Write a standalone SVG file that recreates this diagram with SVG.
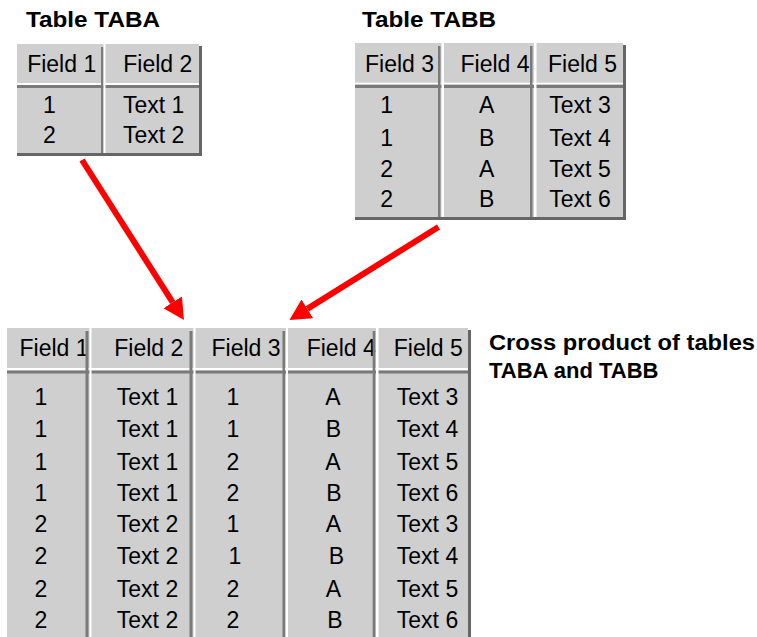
<svg xmlns="http://www.w3.org/2000/svg" width="757" height="637" viewBox="0 0 757 637">
<style>
.bg{fill:#cfcfcf}
.wl{fill:#ffffff}
.gl{fill:#7a7a7a}
.sh{fill:#666666}
text{font-family:"Liberation Sans",Arial,sans-serif;font-size:23px;fill:#000}
.c{text-anchor:middle}
.t{font-weight:bold;font-size:22px}
.arrow{stroke:#ff0000;stroke-width:6;fill:none}
</style>
<defs>
<marker id="ah" markerUnits="userSpaceOnUse" markerWidth="22" markerHeight="24" refX="0" refY="11" orient="auto" viewBox="0 0 22 22">
<path d="M0,0 L21,11 L0,22 Z" fill="#ff0000"/>
</marker>
</defs>
<rect width="757" height="637" fill="#ffffff"/>

<g id="titleA"><text class="t" x="26" y="27" textLength="134" lengthAdjust="spacingAndGlyphs">Table TABA</text></g>
<g id="titleB"><text class="t" x="362" y="27" textLength="134" lengthAdjust="spacingAndGlyphs">Table TABB</text></g>
<g id="titleC">
<text class="t" x="489" y="350" textLength="266" lengthAdjust="spacingAndGlyphs">Cross product of tables</text>
<text class="t" x="489" y="378">TABA and TABB</text>
</g>

<g id="tableA">
<rect class="bg" x="17" y="44" width="182" height="109"/>
<text class="c" x="61.7" y="72">Field 1</text>
<text class="c" x="157.8" y="72">Field 2</text>
<text class="c" x="49.3" y="112.7">1</text>
<text class="c" x="153.7" y="112.7">Text 1</text>
<text class="c" x="49.3" y="143.3">2</text>
<text class="c" x="153.7" y="143.3">Text 2</text>
<rect class="wl" x="17" y="83" width="182" height="2"/>
<rect class="gl" x="17" y="85" width="182" height="3"/>
<rect class="gl" x="101" y="47" width="2.5" height="106"/>
<rect class="wl" x="103.5" y="44" width="2" height="109"/>
<rect class="sh" x="199" y="46" width="3" height="110"/>
<rect class="sh" x="17" y="153" width="185" height="3"/>
</g>

<g id="tableB">
<rect class="bg" x="355" y="43" width="268" height="174"/>
<text class="c" x="399.5" y="72">Field 3</text>
<text class="c" x="495" y="72">Field 4</text>
<text class="c" x="582.5" y="72">Field 5</text>
<text class="c" x="386.7" y="112.7">1</text>
<text class="c" x="486.7" y="112.7">A</text>
<text class="c" x="580" y="112.7">Text 3</text>
<text class="c" x="386.7" y="146">1</text>
<text class="c" x="486.7" y="146">B</text>
<text class="c" x="580" y="146">Text 4</text>
<text class="c" x="386.7" y="176.7">2</text>
<text class="c" x="486.7" y="176.7">A</text>
<text class="c" x="580" y="176.7">Text 5</text>
<text class="c" x="386.7" y="207.3">2</text>
<text class="c" x="486.7" y="207.3">B</text>
<text class="c" x="580" y="207.3">Text 6</text>
<rect class="wl" x="355" y="82.7" width="268" height="2"/>
<rect class="gl" x="355" y="84.7" width="268" height="3.3"/>
<rect class="gl" x="438" y="46" width="2.5" height="171"/>
<rect class="wl" x="441.5" y="43" width="2.5" height="174"/>
<rect class="gl" x="530" y="46" width="2.5" height="171"/>
<rect class="wl" x="534" y="43" width="2.5" height="174"/>
<rect class="sh" x="623" y="45" width="3" height="175"/>
<rect class="sh" x="355" y="217" width="271" height="3"/>
</g>

<g id="tableC">
<rect class="bg" x="7" y="328" width="461" height="309"/>
<text x="19.5" y="356">Field 1</text>
<text class="c" x="148.8" y="356">Field 2</text>
<text class="c" x="246" y="356">Field 3</text>
<text x="306.7" y="356">Field 4</text>
<text class="c" x="428.3" y="356">Field 5</text>
<g class="c">
<text class="c" x="41" y="405">1</text><text class="c" x="147.5" y="405">Text 1</text><text class="c" x="233" y="405">1</text><text class="c" x="333" y="405">A</text><text class="c" x="427.5" y="405">Text 3</text>
<text class="c" x="41" y="437">1</text><text class="c" x="147.5" y="437">Text 1</text><text class="c" x="233" y="437">1</text><text class="c" x="333.5" y="437">B</text><text class="c" x="427.5" y="437">Text 4</text>
<text class="c" x="41" y="470">1</text><text class="c" x="147.5" y="470">Text 1</text><text class="c" x="233" y="470">2</text><text class="c" x="333" y="470">A</text><text class="c" x="427.5" y="470">Text 5</text>
<text class="c" x="41" y="501">1</text><text class="c" x="147.5" y="501">Text 1</text><text class="c" x="233" y="501">2</text><text class="c" x="334" y="501">B</text><text class="c" x="427.5" y="501">Text 6</text>
<text class="c" x="41" y="532">2</text><text class="c" x="147.5" y="532">Text 2</text><text class="c" x="233" y="532">1</text><text class="c" x="333.5" y="532">A</text><text class="c" x="427.5" y="532">Text 3</text>
<text class="c" x="41" y="564">2</text><text class="c" x="147.5" y="564">Text 2</text><text class="c" x="235" y="564">1</text><text class="c" x="336.5" y="564">B</text><text class="c" x="427.5" y="564">Text 4</text>
<text class="c" x="41" y="597">2</text><text class="c" x="147.5" y="597">Text 2</text><text class="c" x="233" y="597">2</text><text class="c" x="333.5" y="597">A</text><text class="c" x="427.5" y="597">Text 5</text>
<text class="c" x="41" y="628">2</text><text class="c" x="147.5" y="628">Text 2</text><text class="c" x="233" y="628">2</text><text class="c" x="335" y="628">B</text><text class="c" x="427.5" y="628">Text 6</text>
</g>
<rect class="wl" x="7" y="368" width="461" height="2.5"/>
<rect class="gl" x="7" y="370.5" width="461" height="3"/>
<rect class="gl" x="85.5" y="331" width="3" height="306"/>
<rect class="wl" x="89.5" y="328" width="2" height="309"/>
<rect class="gl" x="189.5" y="331" width="3" height="306"/>
<rect class="wl" x="193.5" y="328" width="2" height="309"/>
<rect class="gl" x="282.5" y="331" width="2.5" height="306"/>
<rect class="wl" x="286" y="328" width="2" height="309"/>
<rect class="gl" x="372.7" y="331" width="2.6" height="306"/>
<rect class="wl" x="376" y="328" width="2.5" height="309"/>
<rect class="sh" x="468" y="330" width="3" height="307"/>
</g>

<g id="connectors">
<line class="arrow" x1="82" y1="160" x2="172.7" y2="302.3" marker-end="url(#ah)"/>
<line class="arrow" x1="438.5" y1="227" x2="307.3" y2="308.9" marker-end="url(#ah)"/>
</g>
</svg>
